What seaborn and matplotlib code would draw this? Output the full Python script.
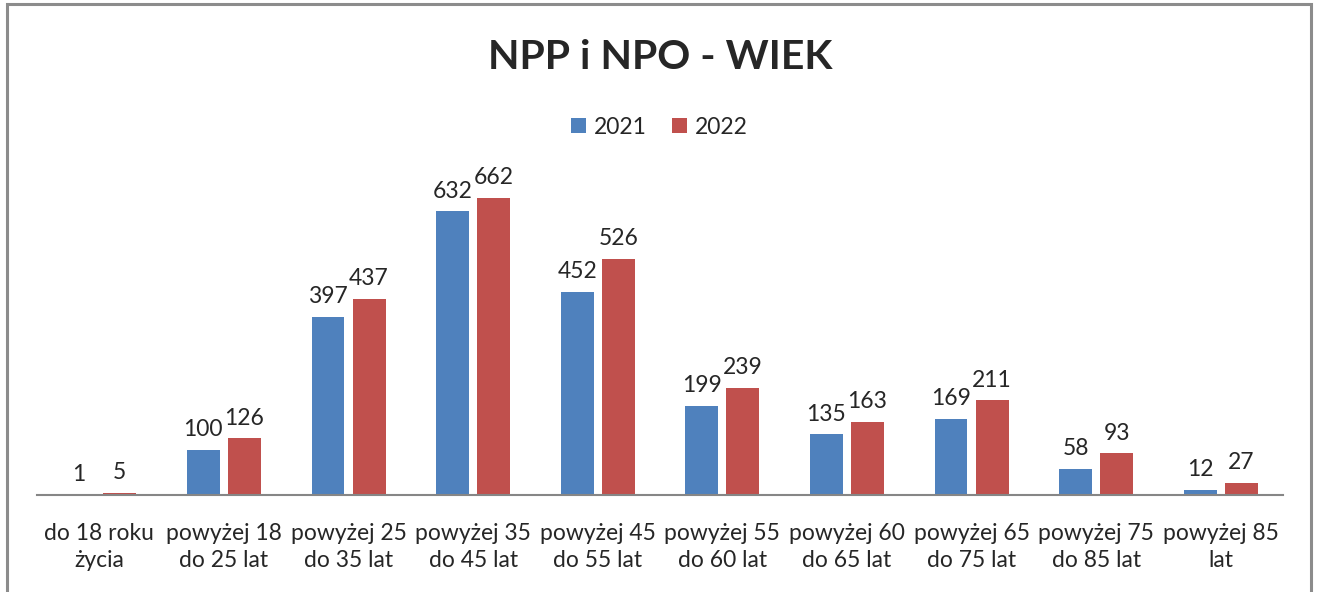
import pandas as pd
import matplotlib.pyplot as plt
import seaborn as sns
from matplotlib.patches import Rectangle

categories = ['do 18 roku\nżycia', 'powyżej 18\ndo 25 lat', 'powyżej 25\ndo 35 lat',
              'powyżej 35\ndo 45 lat', 'powyżej 45\ndo 55 lat', 'powyżej 55\ndo 60 lat',
              'powyżej 60\ndo 65 lat', 'powyżej 65\ndo 75 lat', 'powyżej 75\ndo 85 lat',
              'powyżej 85\nlat']
values_2021 = [1, 100, 397, 632, 452, 199, 135, 169, 58, 12]
values_2022 = [5, 126, 437, 662, 526, 239, 163, 211, 93, 27]
years = ['2021', '2022']

df = pd.DataFrame({
    'kategoria': categories * 2,
    'rok': [years[0]] * len(categories) + [years[1]] * len(categories),
    'liczba': values_2021 + values_2022,
})

sns.set_style('white')
plt.rcParams['font.family'] = ['Lato', 'DejaVu Sans']

fig = plt.figure(figsize=(13.17, 5.92), dpi=100)
ax = fig.add_axes([0.0281, 0.1639, 0.9461, 0.5304])

sns.barplot(data=df, x='kategoria', y='liczba', hue='rok',
            palette=['#4F81BD', '#C0504D'], saturation=1, width=0.66, gap=0.2,
            linewidth=0, ax=ax, legend=True)

for cont in ax.containers:
    ax.bar_label(cont, padding=7, fontsize=16.5)

ax.set_ylim(0, 700)
ax.set_xlim(-0.5, len(categories) - 0.5)
ax.set_xlabel('')
ax.set_ylabel('')
ax.set_yticks([])
ax.tick_params(axis='x', length=0, pad=20, labelsize=16.5)
for lbl in ax.get_xticklabels():
    lbl.set_linespacing(1.35)
for s in ['top', 'right', 'left']:
    ax.spines[s].set_visible(False)
ax.spines['bottom'].set_color('#868686')
ax.spines['bottom'].set_linewidth(1.5)

handles, labels = ax.get_legend_handles_labels()
ax.legend_.remove()
fig.legend(handles, labels, loc='center', bbox_to_anchor=(0.501, 0.785),
           ncol=2, frameon=False, fontsize=16.5, handlelength=0.65,
           handleheight=0.65, handletextpad=0.35, columnspacing=1.1)

fig.text(0.501, 0.903, 'NPP i NPO - WIEK', ha='center', va='center',
         fontsize=29.5, fontweight='bold')

fig.patches.append(Rectangle((7 / 1317, -0.05), 1304 / 1317, 1.05 - 4 / 592,
                             transform=fig.transFigure, fill=False,
                             edgecolor='#8c8c8c', linewidth=2.2))

fig.savefig('out.png', dpi=100, facecolor='white')
